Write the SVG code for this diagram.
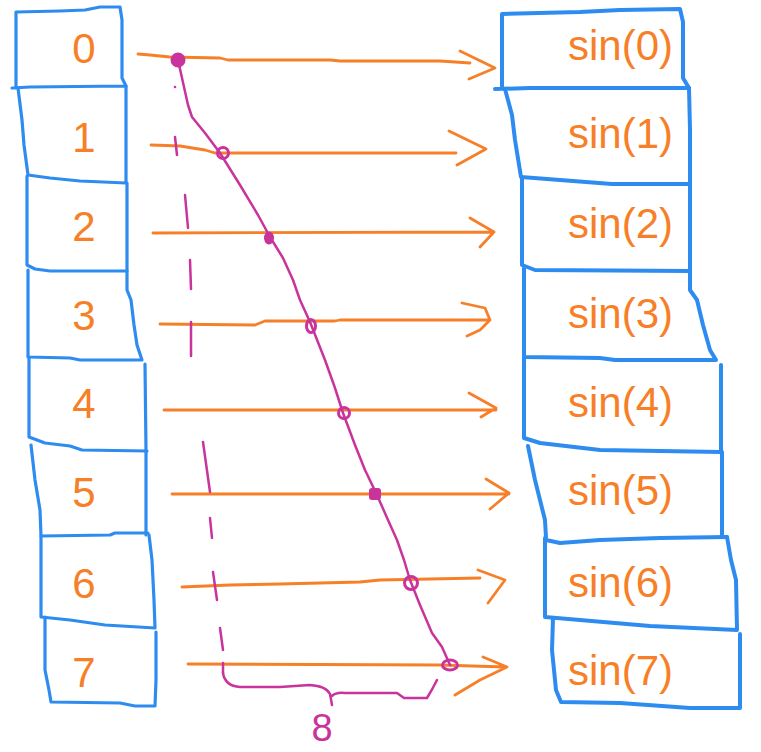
<svg xmlns="http://www.w3.org/2000/svg" width="761" height="752" viewBox="0 0 761 752">
<style>
.cl{fill:none;stroke:#2E8CF0;stroke-width:3.2;stroke-linejoin:round;stroke-linecap:round}
.cr{fill:none;stroke:#2E8CF0;stroke-width:4;stroke-linejoin:round;stroke-linecap:round}
.t{font-family:"Liberation Sans",Arial,sans-serif;font-size:42px;fill:#F77F28}
.a{fill:none;stroke:#F77F28;stroke-width:2.8;stroke-linecap:round;stroke-linejoin:round}
.m{fill:none;stroke:#C8339C;stroke-width:2.5;stroke-linecap:round;stroke-linejoin:round}
.md{fill:#C8339C;stroke:#C8339C;stroke-width:2}
.mo{fill:none;stroke:#C8339C;stroke-width:3}
</style>
<rect width="761" height="752" fill="#fff"/>
<g id="left-column">
<g id="L0"><path class="cl" d="M16,88 L16,12 L60,11 L85,10 L100,7 L120,7 L122,20 L122,78 L126,86 M12,88 L30,87 L126,86"/><text class="t" x="84" y="63" text-anchor="middle">0</text></g>
<g id="L1"><path class="cl" d="M18,88 L22,120 L24,145 L28,175 L50,178 L80,181 L126,183 M126,86 L126,183"/><text class="t" x="84" y="152" text-anchor="middle">1</text></g>
<g id="L2"><path class="cl" d="M27,176 L27,265 L35,269 L50,271 L127,271 M127,183 L127,271"/><text class="t" x="84" y="241" text-anchor="middle">2</text></g>
<g id="L3"><path class="cl" d="M28,270 L28,357 L70,358 L80,360 L142,360 L137,345 L134,325 L131,300 L127,290 L127,271"/><text class="t" x="84" y="330" text-anchor="middle">3</text></g>
<g id="L4"><path class="cl" d="M29,357 L29,437 L45,443 L70,446 L82,450 L147,451 M145,364 L146,451"/><text class="t" x="84" y="418" text-anchor="middle">4</text></g>
<g id="L5"><path class="cl" d="M31,445 L35,480 L40,510 L41,536 L110,535 L115,533 L148,533 M146,451 L146,535"/><text class="t" x="84" y="507" text-anchor="middle">5</text></g>
<g id="L6"><path class="cl" d="M41,536 L41,617 L70,620 L105,625 L155,628 L154,600 L152,560 L149,535"/><text class="t" x="84" y="598" text-anchor="middle">6</text></g>
<g id="L7"><path class="cl" d="M45,617 L45,670 L49,690 L51,702 L120,703 L135,706 L155,706 L156,680 L156,632"/><text class="t" x="84" y="687" text-anchor="middle">7</text></g>
</g>
<g id="right-column">
<g id="R0"><path class="cr" d="M502,88 L502,14 L580,12 L620,10 L680,9 L683,22 L683,78 L689,88 M495,89 L530,88 L689,88"/><text class="t" x="568" y="60">sin(0)</text></g>
<g id="R1"><path class="cr" d="M505,89 L512,115 L515,140 L521,177 L560,180 L612,184 L690,184 L690,130 L689,88"/><text class="t" x="568" y="148">sin(1)</text></g>
<g id="R2"><path class="cr" d="M522,178 L522,265 L535,270 L690,271 L690,184"/><text class="t" x="568" y="238">sin(2)</text></g>
<g id="R3"><path class="cr" d="M524,268 L524,357 L600,358 L615,360 L716,360 L710,350 L703,325 L697,300 L690,290 L690,271"/><text class="t" x="568" y="328">sin(3)</text></g>
<g id="R4"><path class="cr" d="M524,357 L524,438 L540,443 L600,450 L721,452 M721,365 L721,452"/><text class="t" x="568" y="417">sin(4)</text></g>
<g id="R5"><path class="cr" d="M528,446 L535,480 L545,520 L546,538 M546,540 L560,543 L600,540 L660,538 L727,537 M722,452 L722,537"/><text class="t" x="568" y="505">sin(5)</text></g>
<g id="R6"><path class="cr" d="M545,538 L545,617 L580,620 L650,626 L737,630 L736,580 L731,560 L727,537"/><text class="t" x="568" y="597">sin(6)</text></g>
<g id="R7"><path class="cr" d="M553,618 L552,650 L556,690 L561,702 L620,703 L690,708 L740,708 L740,680 L740,634"/><text class="t" x="568" y="685">sin(7)</text></g>
</g>
<g id="connectors">
<path class="a" d="M138,54 L150,55 L170,57 L220,58 L228,60 L330,60 L340,61 L440,61 L470,63 M460,51 L495,68 L469,79"/>
<path class="a" d="M151,145 L180,146 L205,150 L215,153 L456,153 M449,131 L486,149 L457,165"/>
<path class="a" d="M153,233 L494,232 M470,218 L494,232 L480,247"/>
<path class="a" d="M160,324 L255,325 L265,321 L335,321 L340,320 L460,320 L490,320 M462,303 L485,308 L490,320 L480,330 L467,336"/>
<path class="a" d="M164,410 L496,410 M469,393 L496,408 L481,417"/>
<path class="a" d="M172,494 L509,494 M486,479 L509,493 L490,509"/>
<path class="a" d="M182,587 L230,585 L280,584 L360,582 L380,580 L480,578 M478,570 L505,580 L488,603"/>
<path class="a" d="M188,664 L440,665 L505,667 M483,657 L507,667 L480,680 L455,695"/>
</g>
<g id="annotation">
<path class="m" d="M178,60 L182,78 L188,105 L192,117 L205,133 L220,153 L240,185 L258,215 L270,237 L283,258 L293,280 L300,300 L310,322 L325,360 L335,388 L343,413 L355,445 L365,470 L377,495 L388,520 L397,540 L404,560 L410,580 L420,605 L432,633 L442,647 L450,665"/>
<circle class="md" cx="178" cy="60" r="6.5"/>
<circle class="mo" cx="223" cy="153" r="5.5"/>
<ellipse class="md" cx="269" cy="238" rx="4" ry="5.5"/>
<ellipse class="mo" cx="311" cy="326" rx="4.5" ry="6.5"/>
<circle class="mo" cx="344" cy="413" r="5.5"/>
<rect class="md" x="370" y="489" width="10" height="10" rx="2"/>
<circle class="mo" cx="411" cy="583" r="6.5"/>
<ellipse class="mo" cx="450" cy="665" rx="7.5" ry="5"/>
<circle fill="#C8339C" cx="175" cy="87" r="1.3"/>
<path class="m" d="M175,137 L177,155 M185,195 L188,228 M190,260 L191,289 M191,322 L191,356 M203,442 L210,492 M210,518 L212,538 M213,572 L217,600 M220,628 L223,650 M223,663 L223,673"/>
<path class="m" d="M223,673 Q225,686 240,687 L280,687 L310,685 Q326,686 330,694 L332,705 M332,696 Q336,692 345,693 L397,693 L404,698 L427,698 Q432,690 437,680"/>
<text x="322" y="741" text-anchor="middle" style="font-family:'Liberation Sans',Arial,sans-serif;font-size:38px;fill:#C8339C">8</text>
</g>
</svg>
